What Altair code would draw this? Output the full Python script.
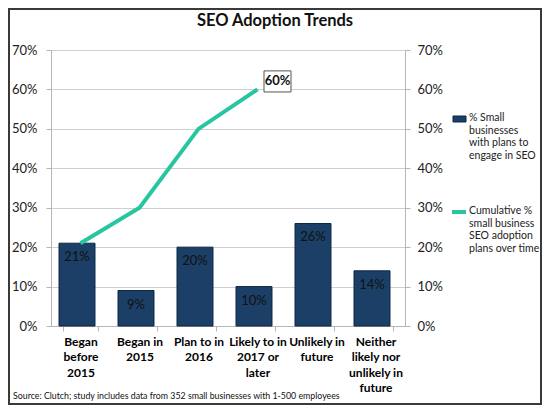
import altair as alt
import pandas as pd

# ---- data ----
cat_lines = [
    ["Began", "before", "2015"],
    ["Began in", "2015"],
    ["Plan to in", "2016"],
    ["Likely to in", "2017 or", "later"],
    ["Unlikely in", "future"],
    ["Neither", "likely nor", "unlikely in", "future"],
]
categories = [" ".join(l) for l in cat_lines]
share = [21, 9, 20, 10, 26, 14]
cumulative = [21, 30, 50, 60, None, None]

bar_legend = ["% Small", "businesses", "with plans to", "engage in SEO"]
line_legend = ["Cumulative %", "small business", "SEO adoption", "plans over time"]
title_text = "SEO Adoption Trends"
source_text = "Source: Clutch; study includes data from 352 small businesses with 1-500 employees"
y_ticks = [0, 0.1, 0.2, 0.3, 0.4, 0.5, 0.6, 0.7]

FONT = "Lato"
BAR = "#1b3f66"
LINE = "#27c6a0"

df = pd.DataFrame({"cat": categories, "share": [v / 100 for v in share]})
df_line = pd.DataFrame({"cat": categories[:4], "cum": [v / 100 for v in cumulative[:4]]})
df_last = df_line.tail(1)
one = pd.DataFrame({"a": [0]})

# multi-line x labels
expr = "''"
for c, l in reversed(list(zip(categories, cat_lines))):
    arr = "[" + ",".join("'" + s + "'" for s in l) + "]"
    expr = f"datum.value == '{c}' ? {arr} : ({expr})"

xscale = alt.Scale(domain=categories, paddingInner=0.39, paddingOuter=0.195)
x_enc = alt.X(
    "cat:N", sort=categories, scale=xscale,
    axis=alt.Axis(
        title=None, labelExpr=expr, labelAngle=0, labelFont=FONT, labelFontSize=12,
        labelFontWeight="bold", labelColor="#000", labelLineHeight=15.5, labelPadding=5,
        labelBaseline="top", tickBand="extent", tickSize=5, tickColor="#b5b5b5",
        domainColor="#b5b5b5", grid=False,
    ),
)
yscale = alt.Scale(domain=[0, 0.7], nice=False)
y_left = alt.Y("share:Q", scale=yscale,
               axis=alt.Axis(title=None, format="%", values=y_ticks, labelFont=FONT, labelFontSize=13,
                             labelColor="#222", tickSize=5, labelPadding=9, tickColor="#b5b5b5",
                             domainColor="#b5b5b5", gridColor="#cfcfcf", grid=True))
y_right = alt.Y("cum:Q", scale=yscale,
                axis=alt.Axis(title=None, orient="right", format="%", values=y_ticks, labelFont=FONT,
                              labelFontSize=13, labelColor="#222", tickSize=5, labelPadding=7,
                              tickColor="#b5b5b5", domainColor="#b5b5b5", grid=False))

bars = alt.Chart(df).mark_bar(color=BAR, stroke="#0e2742", strokeWidth=1, xOffset=-3.5).encode(
    x=x_enc, y=y_left,
)
bar_text = alt.Chart(df).mark_text(dy=14, dx=-3.5, font=FONT, fontSize=13, color="#111", baseline="middle").encode(
    x=x_enc, y=y_left,
    text=alt.Text("share:Q", format=".0%"),
)
left = alt.layer(bars, bar_text)

line = alt.Chart(df_line).mark_line(color=LINE, strokeWidth=4).encode(
    x=x_enc, y=y_right,
)
box = alt.Chart(df_last).mark_point(
    shape="M-1,-0.78H1V0.78H-1Z", size=729, filled=True, fill="white", stroke="#555",
    strokeWidth=1, opacity=1, xOffset=20, yOffset=-8,
).encode(x=x_enc, y=y_right)
box_text = alt.Chart(df_last).mark_text(
    font=FONT, fontSize=13, fontWeight="bold", color="#111", dx=20, dy=-8, baseline="middle"
).encode(
    x=x_enc, y=y_right,
    text=alt.Text("cum:Q", format=".0%"),
)
right = alt.layer(line, box, box_text)

deco = [
    alt.Chart(one).mark_rect(fill="transparent", stroke="#3a3a3a", strokeWidth=2).encode(
        x=alt.value(-42), x2=alt.value(490), y=alt.value(-41), y2=alt.value(354)),
    alt.Chart(one).mark_text(font=FONT, fontSize=16.5, fontWeight="bold", color="#111", baseline="middle").encode(
        x=alt.value(224), y=alt.value(-29), text=alt.value(title_text)),
    alt.Chart(one).mark_text(font=FONT, fontSize=8.8, color="#111", align="left", baseline="middle").encode(
        x=alt.value(-38), y=alt.value(346), text=alt.value(source_text)),
    alt.Chart(one).mark_rect(fill=BAR, stroke="#0e2742", strokeWidth=1).encode(
        x=alt.value(402), x2=alt.value(415), y=alt.value(66), y2=alt.value(72)),
    alt.Chart(one).mark_text(font=FONT, fontSize=10.5, color="#222", align="left", baseline="top", lineHeight=12.7).encode(
        x=alt.value(418), y=alt.value(63), text=alt.value(bar_legend)),
    alt.Chart(one).mark_rule(color=LINE, strokeWidth=4).encode(
        x=alt.value(401), x2=alt.value(415), y=alt.value(162)),
    alt.Chart(one).mark_text(font=FONT, fontSize=10.5, color="#222", align="left", baseline="top", lineHeight=12.7).encode(
        x=alt.value(418), y=alt.value(156), text=alt.value(line_legend)),
]

chart = alt.layer(left, right, *deco).resolve_scale(y="independent").properties(
    width=354, height=276,
    autosize=alt.AutoSizeParams(type="none"),
    padding={"left": 43, "top": 42, "right": 137, "bottom": 79},
).configure_view(stroke=None).configure(background="white")

chart.save("out.html", embed_options={"renderer": "svg", "actions": False})
